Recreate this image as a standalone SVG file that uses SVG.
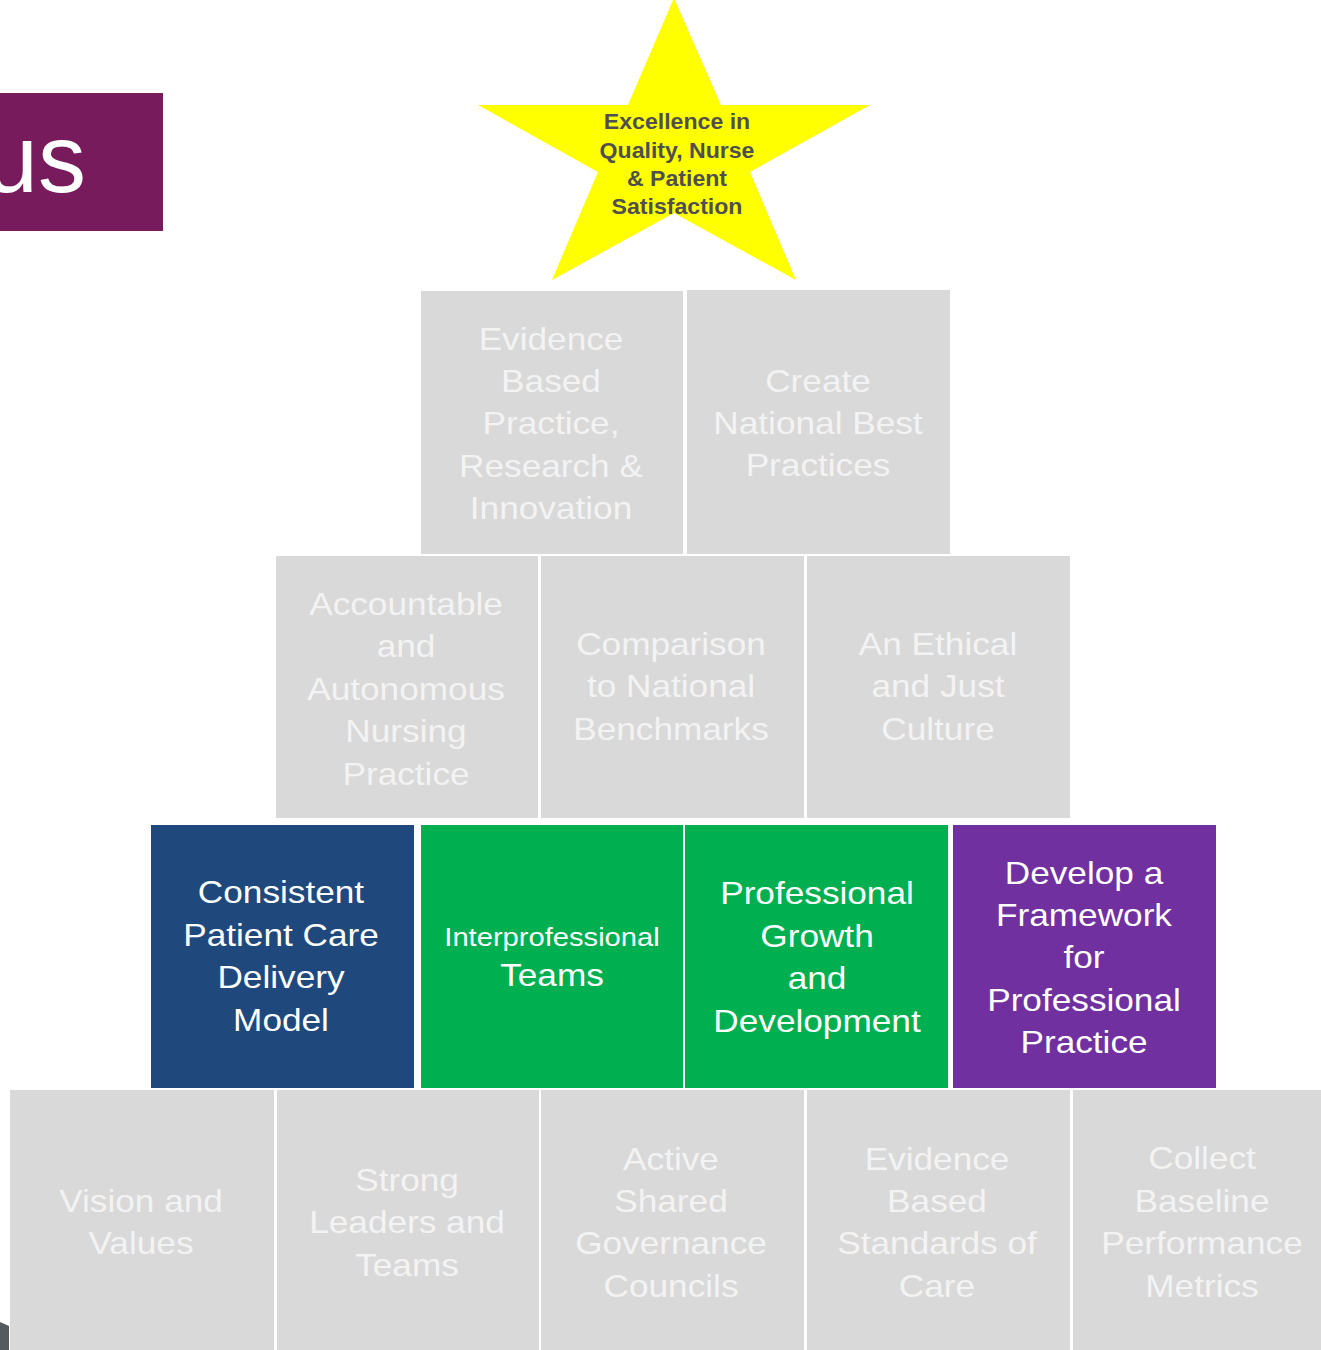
<svg xmlns="http://www.w3.org/2000/svg" width="1321" height="1350" viewBox="0 0 1321 1350">
  <style>
    .lbl { font-family: "Liberation Sans", Arial, sans-serif; font-size: 32px; text-anchor: middle; }
    .soft { fill: #f3f3f3; }
    .bright { fill: #ffffff; }
    .star-lbl { font-family: "Liberation Sans", Arial, sans-serif; font-weight: bold; font-size: 22px; text-anchor: middle; fill: #4f4f4f; }
    .gray { fill: #d9d9d9; }
    .blue { fill: #1f497d; }
    .green { fill: #00b050; }
    .purple { fill: #7030a0; }
  </style>

  <rect x="0" y="0" width="1321" height="1350" fill="#ffffff"/>

  <!-- title tab, clipped at the left edge -->
  <g id="title-tab">
    <rect x="0" y="93" width="163" height="138" fill="#781b5c"/>
    <text x="86" y="192" font-family="Liberation Sans, Arial, sans-serif" font-size="96" text-anchor="end" fill="#ffffff">us</text>
  </g>

  <!-- corner fragment, bottom left -->
  <polygon points="0,1322 9,1326 9,1350 0,1350" fill="#555a5f"/>

  <!-- goal star -->
  <g id="star">
    <polygon points="674,-2 721,105 870,105 750,172 796,280 674,213 552,280 598,172 478,105 628,105" fill="#ffff00"/>
    <g transform="translate(677 0) scale(1.05 1)">
      <text class="star-lbl" x="0" y="129">Excellence in</text>
      <text class="star-lbl" x="0" y="158">Quality, Nurse</text>
      <text class="star-lbl" x="0" y="186">&amp; Patient</text>
      <text class="star-lbl" x="0" y="214">Satisfaction</text>
    </g>
  </g>

  <!-- row 1 -->
  <g id="evidence-based-practice">
    <rect class="gray" x="421" y="291" width="262" height="263"/>
    <g transform="translate(551 0) scale(1.1 1)" class="lbl soft">
      <text x="0" y="350">Evidence</text>
      <text x="0" y="392">Based</text>
      <text x="0" y="434">Practice,</text>
      <text x="0" y="477">Research &amp;</text>
      <text x="0" y="519">Innovation</text>
    </g>
  </g>
  <g id="national-best-practices">
    <rect class="gray" x="687" y="290" width="263" height="264"/>
    <g transform="translate(818 0) scale(1.1 1)" class="lbl soft">
      <text x="0" y="392">Create</text>
      <text x="0" y="434">National Best</text>
      <text x="0" y="476">Practices</text>
    </g>
  </g>

  <!-- row 2 -->
  <g id="autonomous-practice">
    <rect class="gray" x="276" y="556" width="262" height="262"/>
    <g transform="translate(406 0) scale(1.1 1)" class="lbl soft">
      <text x="0" y="615">Accountable</text>
      <text x="0" y="657">and</text>
      <text x="0" y="700">Autonomous</text>
      <text x="0" y="742">Nursing</text>
      <text x="0" y="785">Practice</text>
    </g>
  </g>
  <g id="national-benchmarks">
    <rect class="gray" x="541" y="556" width="263" height="262"/>
    <g transform="translate(671 0) scale(1.1 1)" class="lbl soft">
      <text x="0" y="655">Comparison</text>
      <text x="0" y="697">to National</text>
      <text x="0" y="740">Benchmarks</text>
    </g>
  </g>
  <g id="ethical-culture">
    <rect class="gray" x="807" y="556" width="263" height="262"/>
    <g transform="translate(938 0) scale(1.1 1)" class="lbl soft">
      <text x="0" y="655">An Ethical</text>
      <text x="0" y="697">and Just</text>
      <text x="0" y="740">Culture</text>
    </g>
  </g>

  <!-- row 3 -->
  <g id="care-delivery-model">
    <rect class="blue" x="151" y="825" width="263" height="263"/>
    <g transform="translate(281 0) scale(1.1 1)" class="lbl bright">
      <text x="0" y="903">Consistent</text>
      <text x="0" y="946">Patient Care</text>
      <text x="0" y="988">Delivery</text>
      <text x="0" y="1031">Model</text>
    </g>
  </g>
  <g id="interprofessional-teams">
    <rect class="green" x="421" y="825" width="262" height="263"/>
    <g transform="translate(552 0) scale(1.1 1)" class="lbl bright">
      <text x="0" y="946" font-size="26.5">Interprofessional</text>
      <text x="0" y="986">Teams</text>
    </g>
  </g>
  <g id="professional-growth">
    <rect class="green" x="685" y="825" width="263" height="263"/>
    <g transform="translate(817 0) scale(1.1 1)" class="lbl bright">
      <text x="0" y="904">Professional</text>
      <text x="0" y="947">Growth</text>
      <text x="0" y="989">and</text>
      <text x="0" y="1032">Development</text>
    </g>
  </g>
  <g id="professional-practice-framework">
    <rect class="purple" x="953" y="825" width="263" height="263"/>
    <g transform="translate(1084 0) scale(1.1 1)" class="lbl bright">
      <text x="0" y="884">Develop a</text>
      <text x="0" y="926">Framework</text>
      <text x="0" y="968">for</text>
      <text x="0" y="1011">Professional</text>
      <text x="0" y="1053">Practice</text>
    </g>
  </g>

  <!-- row 4 -->
  <g id="vision-values">
    <rect class="gray" x="10" y="1090" width="264" height="270"/>
    <g transform="translate(141 0) scale(1.1 1)" class="lbl soft">
      <text x="0" y="1212">Vision and</text>
      <text x="0" y="1254">Values</text>
    </g>
  </g>
  <g id="strong-leaders">
    <rect class="gray" x="277" y="1090" width="262" height="270"/>
    <g transform="translate(407 0) scale(1.1 1)" class="lbl soft">
      <text x="0" y="1191">Strong</text>
      <text x="0" y="1233">Leaders and</text>
      <text x="0" y="1276">Teams</text>
    </g>
  </g>
  <g id="shared-governance">
    <rect class="gray" x="541" y="1090" width="263" height="270"/>
    <g transform="translate(671 0) scale(1.1 1)" class="lbl soft">
      <text x="0" y="1170">Active</text>
      <text x="0" y="1212">Shared</text>
      <text x="0" y="1254">Governance</text>
      <text x="0" y="1297">Councils</text>
    </g>
  </g>
  <g id="standards-of-care">
    <rect class="gray" x="807" y="1090" width="263" height="270"/>
    <g transform="translate(937 0) scale(1.1 1)" class="lbl soft">
      <text x="0" y="1170">Evidence</text>
      <text x="0" y="1212">Based</text>
      <text x="0" y="1254">Standards of</text>
      <text x="0" y="1297">Care</text>
    </g>
  </g>
  <g id="baseline-metrics">
    <rect class="gray" x="1073" y="1090" width="260" height="270"/>
    <g transform="translate(1202 0) scale(1.1 1)" class="lbl soft">
      <text x="0" y="1169">Collect</text>
      <text x="0" y="1212">Baseline</text>
      <text x="0" y="1254">Performance</text>
      <text x="0" y="1297">Metrics</text>
    </g>
  </g>
</svg>
